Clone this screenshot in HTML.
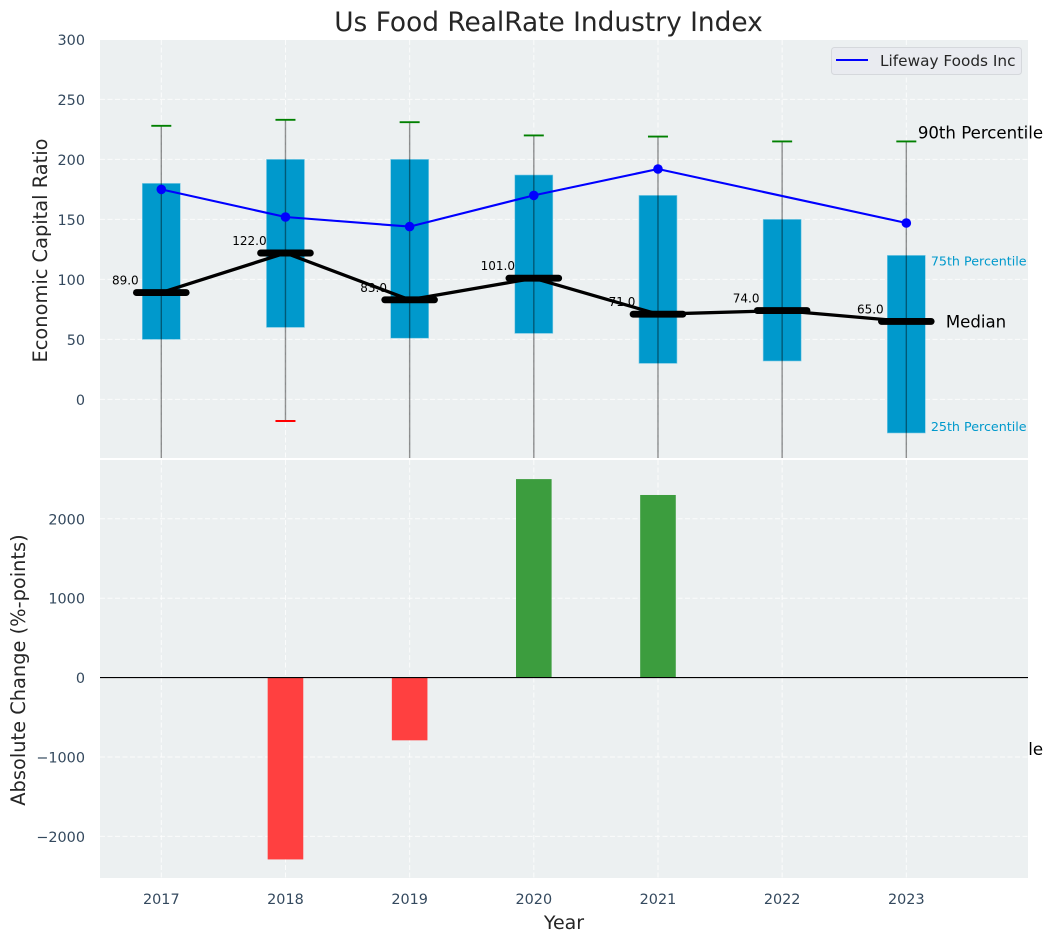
<!DOCTYPE html>
<html lang="en">
<head>
<meta charset="utf-8">
<title>Us Food RealRate Industry Index</title>
<style>
html,body{margin:0;padding:0;background:#fff;}
svg{display:block;font-family:"DejaVu Sans","Liberation Sans",sans-serif;}
</style>
</head>
<body>
<svg id="chart" width="1053" height="942" viewBox="0 0 1053 942" xmlns="http://www.w3.org/2000/svg">
  <defs>
    <clipPath id="top-clip"><rect x="100" y="40" width="928" height="418"></rect></clipPath>
    <clipPath id="bottom-clip"><rect x="100" y="460" width="928" height="418"></rect></clipPath>
  </defs>
  <text x="548.5" y="31" text-anchor="middle" font-size="26.4" fill="#262626">Us Food RealRate Industry Index</text>
  <rect x="100" y="40" width="928" height="418" fill="#ecf0f1"></rect>
  <g id="top-grid"></g>
  <g id="top-marks" clip-path="url(#top-clip)"></g>
  <g id="top-annotations"></g>
  <rect x="100" y="460" width="928" height="418" fill="#ecf0f1"></rect>
  <g id="bottom-grid"></g>
  <g id="bottom-marks" clip-path="url(#bottom-clip)"></g>
  <g id="axis-labels"></g>
  <text transform="translate(47,250.5) rotate(-90)" text-anchor="middle" font-size="19.4" fill="#262626">Economic Capital Ratio</text>
  <text transform="translate(25,670) rotate(-90)" text-anchor="middle" font-size="19.4" fill="#262626">Absolute Change (%-points)</text>
  <text x="564" y="929" text-anchor="middle" font-size="19" fill="#262626">Year</text>
  <g>
    <rect x="831.5" y="47.5" width="190" height="27" rx="3" fill="#e9ebf0" stroke="#d5d8dc" stroke-width="1"></rect>
    <line x1="836" y1="60" x2="868" y2="60" stroke="#0000ff" stroke-width="2.1"></line>
    <text x="880" y="66" font-size="15.3" fill="#262626">Lifeway Foods Inc</text>
  </g>
<script>
const years = [2017, 2018, 2019, 2020, 2021, 2022, 2023];
const p90 = [228, 233, 231, 220, 219, 215, 215];
const p75 = [180, 200, 200, 187, 170, 150, 120];
const median = [89, 122, 83, 101, 71, 74, 65];
const p25 = [50, 60, 51, 55, 30, 32, -28];
const p10 = [-120, -18, -100, -80, -150, -100, -299];
const lifeway = [175, 152, 144, 170, 192, null, 147];
const absoluteChange = [0, -2290, -790, 2500, 2300, 0, 0];
const topTicks = [0, 50, 100, 150, 200, 250, 300];
const bottomTicks = [-2000, -1000, 0, 1000, 2000];

const NS = 'http://www.w3.org/2000/svg';
const xScale = function (year) { return 161.3 + (year - 2017) * 124.17; };
const yTop = function (value) { return 399.4 - value * 1.2; };
const yBottom = function (value) { return 677.6 - value * 0.0794; };

function make(parentId, tag, attrs, text) {
  const el = document.createElementNS(NS, tag);
  for (const k in attrs) el.setAttribute(k, attrs[k]);
  if (text !== undefined) el.textContent = text;
  document.getElementById(parentId).appendChild(el);
  return el;
}
function gridStyle() {
  return { stroke: '#ffffff', 'stroke-width': 1, 'stroke-dasharray': '5 2.5', 'stroke-opacity': 0.8 };
}

/* grid lines and tick labels */
years.forEach(function (year) {
  const a = make('top-grid', 'line', Object.assign({ x1: xScale(year), x2: xScale(year), y1: 40, y2: 458 }, gridStyle()));
  
  
  const b = make('bottom-grid', 'line', Object.assign({ x1: xScale(year), x2: xScale(year), y1: 460, y2: 878 }, gridStyle()));
  
  
  const t = make('axis-labels', 'text', { x: xScale(year), y: 904, 'text-anchor': 'middle', 'font-size': 14.4, fill: '#34495e' }, String(year));
  
  
});
topTicks.forEach(function (tick) {
  const l = make('top-grid', 'line', Object.assign({ x1: 100, x2: 1028, y1: yTop(tick), y2: yTop(tick) }, gridStyle()));
  
  
  const t = make('axis-labels', 'text', { x: 85, y: yTop(tick) + 5.5, 'text-anchor': 'end', 'font-size': 14.4, fill: '#34495e' }, String(tick));
  
  
});
bottomTicks.forEach(function (tick) {
  const l = make('bottom-grid', 'line', Object.assign({ x1: 100, x2: 1028, y1: yBottom(tick), y2: yBottom(tick) }, gridStyle()));
  
  
  const label = tick < 0 ? '\u2212' + Math.abs(tick) : String(tick);
  const t = make('axis-labels', 'text', { x: 85, y: yBottom(tick) + 5.5, 'text-anchor': 'end', 'font-size': 14.4, fill: '#34495e' }, label);
  
  
});

/* percentile boxes */
const boxHalf = 19;
years.forEach(function (year, i) {
  const box = make('top-marks', 'rect', {
    x: xScale(year) - boxHalf, y: yTop(p75[i]), width: boxHalf * 2,
    height: yTop(p25[i]) - yTop(p75[i]), fill: '#0099cc', stroke: '#7fcbe5', 'stroke-width': 0.6
  });
  
  
});

/* whiskers and caps */
years.forEach(function (year, i) {
  const w = make('top-marks', 'line', {
    x1: xScale(year), x2: xScale(year), y1: yTop(p90[i]), y2: yTop(p10[i]),
    stroke: '#000000', 'stroke-opacity': 0.42, 'stroke-width': 1.4
  });
  
  
  const hi = make('top-marks', 'line', {
    x1: xScale(year) - 10, x2: xScale(year) + 10, y1: yTop(p90[i]), y2: yTop(p90[i]),
    stroke: '#008000', 'stroke-width': 1.9
  });
  
  
  const lo = make('top-marks', 'line', {
    x1: xScale(year) - 10, x2: xScale(year) + 10, y1: yTop(p10[i]), y2: yTop(p10[i]),
    stroke: '#ff0000', 'stroke-width': 1.9
  });
  
  
});

/* median value labels sit beneath the median line */
years.forEach(function (year, i) {
  const t = make('top-marks', 'text', {
    x: xScale(year) - 36, y: yTop(median[i]) - 8, 'text-anchor': 'middle', 'font-size': 12, fill: '#000000'
  }, median[i].toFixed(1));
  
  
});

/* median line */
const medianPath = make('top-marks', 'polyline', {
  points: years.map(function (year, i) { return xScale(year) + ',' + yTop(median[i]); }).join(' '),
  fill: 'none', stroke: '#000000', 'stroke-width': 3.3, 'stroke-linejoin': 'round'
});


years.forEach(function (year, i) {
  const m = make('top-marks', 'line', {
    x1: xScale(year) - 24.85, x2: xScale(year) + 24.85, y1: yTop(median[i]), y2: yTop(median[i]),
    stroke: '#000000', 'stroke-width': 6.9, 'stroke-linecap': 'round'
  });
  
  
});

/* Lifeway Foods series: gaps are skipped, the line joins the neighbours */
const lifewayPoints = years.map(function (year, i) {
  return { year: year, value: lifeway[i] };
}).filter(function (p) { return p.value !== null; });
const lifewayPath = make('top-marks', 'polyline', {
  points: lifewayPoints.map(function (p) { return xScale(p.year) + ',' + yTop(p.value); }).join(' '),
  fill: 'none', stroke: '#0000ff', 'stroke-width': 2.1, 'stroke-linejoin': 'round'
});


lifewayPoints.forEach(function (p) {
  const c = make('top-marks', 'circle', { cx: xScale(p.year), cy: yTop(p.value), r: 4.8, fill: '#0000ff' });
  
  
});

/* annotations anchored on the final year */
const last = years.length - 1;
const lastX = xScale(years[last]);
const p90Note = make('top-annotations', 'text', { x: lastX + 11.5, y: yTop(p90[last]) - 3, 'font-size': 16.6, fill: '#000000' }, '90th Percentile');


const p75Note = make('top-annotations', 'text', { x: lastX + 24.5, y: yTop(p75[last]) + 10, 'font-size': 12.7, fill: '#0099cc' }, '75th Percentile');


const medianNote = make('top-annotations', 'text', { x: lastX + 39.5, y: yTop(median[last]) + 6, 'font-size': 16.6, fill: '#000000' }, 'Median');


const p25Note = make('top-annotations', 'text', { x: lastX + 24.5, y: yTop(p25[last]) - 2, 'font-size': 12.7, fill: '#0099cc' }, '25th Percentile');


const p10Note = make('top-annotations', 'text', { x: lastX + 11.5, y: yTop(p10[last]) - 3, 'font-size': 16.6, fill: '#000000' }, '10th Percentile');



/* absolute change bars */
const barHalf = 17.8;
years.forEach(function (year, i) {
  const v = absoluteChange[i];
  if (v === 0) return;
  const top = Math.min(yBottom(v), yBottom(0));
  const bar = make('bottom-marks', 'rect', {
    x: xScale(year) - barHalf, y: top, width: barHalf * 2, height: Math.abs(yBottom(v) - yBottom(0)),
    fill: v > 0 ? '#3c9d3e' : '#ff4040'
  });
  
  
});
const zeroLine = make('bottom-marks', 'line', { x1: 100, x2: 1028, y1: yBottom(0), y2: yBottom(0), stroke: '#000000', 'stroke-width': 1.1 });


</script>
</svg>
</body>
</html>
